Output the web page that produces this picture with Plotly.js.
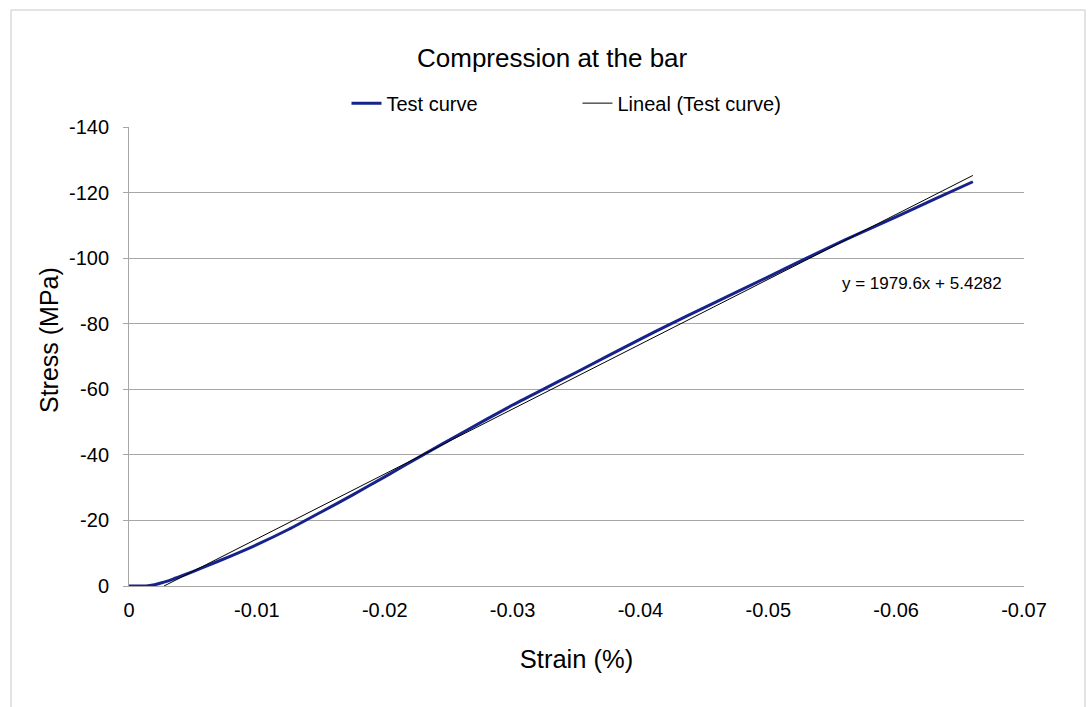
<!DOCTYPE html>
<html>
<head>
<meta charset="utf-8">
<script src="https://cdn.plot.ly/plotly-3.0.1.min.js"></script>
<style>html,body{margin:0;padding:0;background:#fff;}#chart{width:1089px;height:707px;}</style>
</head>
<body>
<div id="chart"></div>
<script>
// Test curve (strain, stress)
var strain = [0, -0.001, -0.0015, -0.002, -0.0025, -0.003, -0.0035, -0.004, -0.005, -0.006, -0.008, -0.010, -0.0125, -0.015, -0.0175, -0.020, -0.023, -0.026, -0.030, -0.0325, -0.035, -0.040, -0.0423, -0.045, -0.050, -0.053, -0.056, -0.060, -0.063, -0.066];
var stress = [0, 0, -0.1, -0.4, -0.9, -1.5, -2.2, -2.9, -4.4, -6.0, -9.2, -12.6, -17.3, -22.5, -27.8, -33.3, -40.0, -46.6, -55.2, -60.2, -65.2, -75.3, -79.8, -84.9, -94.3, -100.0, -105.6, -112.6, -118.0, -123.3];

// Linear trend line
var slope = 1979.6;
var intercept = 5.4282;
var trendStrain = [-intercept / slope, -0.066];
var trendStress = trendStrain.map(function (x) { return slope * x + intercept; });

// Tick labels
var xTickVals = [0, -0.01, -0.02, -0.03, -0.04, -0.05, -0.06, -0.07];
var xTickText = ['0', '-0.01', '-0.02', '-0.03', '-0.04', '-0.05', '-0.06', '-0.07'];
var yTickVals = [0, -20, -40, -60, -80, -100, -120, -140];
var yTickText = ['0', '-20', '-40', '-60', '-80', '-100', '-120', '-140'];

var FONT = 'Liberation Sans, Arial, sans-serif';

var traces = [
  {
    x: strain, y: stress, mode: 'lines', name: 'Test curve',
    line: {color: '#17238c', width: 3, shape: 'spline', smoothing: 0.6}
  },
  {
    x: trendStrain, y: trendStress, mode: 'lines', name: 'Lineal (Test curve)',
    line: {color: '#000000', width: 1}
  }
];

var layout = {
  width: 1089, height: 707,
  margin: {l: 129, r: 65, t: 127, b: 121},
  paper_bgcolor: '#ffffff', plot_bgcolor: '#ffffff',
  font: {family: FONT, color: '#000000', size: 20},
  title: {text: 'Compression at the bar', font: {family: FONT, size: 26, color: '#000'},
          x: 0.507, xref: 'container', xanchor: 'center', y: 0.918, yref: 'container', yanchor: 'middle'},
  showlegend: true,
  legend: {orientation: 'h', x: 0.243, xanchor: 'left', y: 1.052, yanchor: 'middle',
           font: {family: FONT, size: 20}, entrywidth: 186, entrywidthmode: 'pixels',
           bgcolor: 'rgba(0,0,0,0)', itemwidth: 30},
  xaxis: {
    range: [0, -0.07], autorange: false,
    tickvals: xTickVals, ticktext: xTickText,
    showgrid: false, zeroline: false,
    showline: true, linecolor: '#a6a6a6', linewidth: 1,
    ticks: '', ticklabelstandoff: 6,
    tickfont: {family: FONT, size: 20},
    title: {text: 'Strain (%)', font: {family: FONT, size: 25.5}, standoff: 30}
  },
  yaxis: {
    range: [0, -140], autorange: false,
    tickvals: yTickVals, ticktext: yTickText,
    showgrid: true, gridcolor: '#a6a6a6', gridwidth: 1,
    zeroline: false,
    showline: true, linecolor: '#a6a6a6', linewidth: 1,
    ticks: 'outside', ticklen: 5, tickcolor: '#a6a6a6',
    ticklabelstandoff: 10,
    tickfont: {family: FONT, size: 20}
  },
  annotations: [
    {text: 'y = 1979.6x + 5.4282', xref: 'paper', yref: 'paper',
     x: (840 - 129) / 895, xanchor: 'left', y: (586 - 283) / 459, yanchor: 'middle',
     showarrow: false, font: {family: FONT, size: 17, color: '#000'}},
    {text: 'Stress (MPa)', xref: 'paper', yref: 'paper', textangle: -90,
     x: (49 - 129) / 895, xanchor: 'center', y: (586 - 340) / 459, yanchor: 'middle',
     showarrow: false, font: {family: FONT, size: 25, color: '#000'}}
  ],
  shapes: [
    {type: 'rect', xref: 'paper', yref: 'paper',
     x0: (11 - 129) / 895, x1: (1085 - 129) / 895, y0: (586 - 712) / 459, y1: (586 - 10) / 459,
     line: {color: '#c8c8c8', width: 1}, fillcolor: 'rgba(0,0,0,0)', layer: 'below'}
  ]
};

Plotly.newPlot('chart', traces, layout, {displayModeBar: false, staticPlot: true});
</script>
</body>
</html>
